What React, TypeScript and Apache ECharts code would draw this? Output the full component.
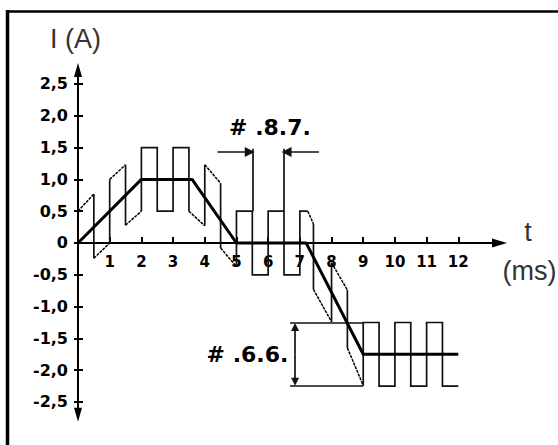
import React, { useEffect, useRef } from 'react';
import * as echarts from 'echarts';

// ---- data ----
const xTickValues = [1, 2, 3, 4, 5, 6, 7, 8, 9, 10, 11, 12];
const yTickValues = [-2.5, -2, -1.5, -1, -0.5, 0, 0.5, 1, 1.5, 2, 2.5];

// mean current (thick line), [t ms, I A]
const averageCurrent: [number, number][] = [
  [0, 0], [2, 1], [3.6, 1], [5, 0], [7.2, 0], [9, -1.75], [12, -1.75],
];

// chopped current with ripple (thin line), [t ms, I A]
const rippleCurrent: [number, number][] = [
  [0, 0.5], [0.5, 0.77], [0.5, -0.24], [1, 0], [1, 1.0], [1.5, 1.23], [1.5, 0.28],
  [2, 0.5], [2, 1.5], [2.5, 1.5], [2.5, 0.5], [3, 0.5], [3, 1.5], [3.5, 1.5], [3.5, 0.5],
  [4, 0.27], [4, 1.23], [4.5, 0.94], [4.5, -0.08], [5, -0.37], [5, 0.5], [5.5, 0.5],
  [5.5, -0.5], [6, -0.5], [6, 0.5], [6.5, 0.5], [6.5, -0.5], [7, -0.5], [7, 0.5],
  [7.25, 0.5], [7.43, 0.3], [7.43, -0.73], [8, -1.24], [8, -0.31], [8.5, -0.74],
  [8.5, -1.65], [9, -2.24], [9, -1.25], [9.5, -1.25], [9.5, -2.25], [10, -2.25],
  [10, -1.25], [10.5, -1.25], [10.5, -2.25], [11, -2.25], [11, -1.25], [11.5, -1.25],
  [11.5, -2.25], [12, -2.25],
];

// dimension annotations
const dimExtensionLines: [number, number][][] = [
  [[5.5, 0.5], [5.5, 1.48]],
  [[6.5, 0.5], [6.5, 1.48]],
  [[6.69, -1.25], [9, -1.25]],
  [[6.69, -2.25], [9, -2.25]],
];
const dimArrowsPeriod: [number, number][][] = [
  [[4.4, 1.43], [5.42, 1.43]],
  [[7.6, 1.43], [6.58, 1.43]],
];
const dimArrowsRipple: [number, number][][] = [
  [[6.85, -1.75], [6.85, -1.32]],
  [[6.85, -1.75], [6.85, -2.18]],
];
const periodLabel = '# .8.7.';
const rippleLabel = '# .6.6.';

function splitRipple(pts: [number, number][]) {
  const solid: [number, number][][] = [];
  const slanted: [number, number][][] = [];
  let run: [number, number][] | null = null;
  for (let i = 1; i < pts.length; i++) {
    const a = pts[i - 1];
    const b = pts[i];
    const straight = a[0] === b[0] || a[1] === b[1];
    if (straight) {
      if (!run) {
        run = [a];
        solid.push(run);
      }
      run.push(b);
    } else {
      run = null;
      slanted.push([a, b]);
    }
  }
  return { solid, slanted };
}

const labelFont = 'DejaVu Sans';

// layout
const GRID_TOP = 70;
const GRID_BOTTOM = 30.3;
const CHART_H = 445;
const Y_MIN = -2.7;
const Y_MAX = 2.72;

export default function App() {
  const ref = useRef<HTMLDivElement>(null);
  useEffect(() => {
    if (!ref.current) return;
    const chart = echarts.init(ref.current, undefined, { renderer: 'svg' });
    const { solid, slanted } = splitRipple(rippleCurrent);
    const yFmt = (v: number) => (v === 0 ? '0' : v.toFixed(1).replace('.', ','));
    const plotH = CHART_H - GRID_TOP - GRID_BOTTOM;
    const zeroFromBottom = (0 - Y_MIN) / (Y_MAX - Y_MIN) * plotH;
    chart.setOption({
      animation: false,
      backgroundColor: '#fff',
      grid: { left: 78, right: 58.5, top: GRID_TOP, bottom: GRID_BOTTOM },
      xAxis: {
        type: 'value',
        min: 0,
        max: 13.3,
        position: 'bottom',
        offset: -zeroFromBottom,
        axisLine: {
          onZero: false,
          lineStyle: { color: '#000', width: 2 },
          symbol: ['none', 'triangle'],
          symbolSize: [9, 15],
        },
        axisTick: { show: true, inside: true, length: 6, customValues: xTickValues, lineStyle: { color: '#000', width: 2 } },
        axisLabel: {
          customValues: xTickValues,
          color: '#000',
          fontFamily: labelFont,
          fontWeight: 'bold',
          fontSize: 15,
          margin: 12,
        },
        splitLine: { show: false },
      },
      yAxis: [
        {
          type: 'value',
          min: Y_MIN,
          max: Y_MAX,
          axisLine: {
            onZero: false,
            lineStyle: { color: '#000', width: 2 },
            symbol: ['triangle', 'triangle'],
            symbolSize: [8, 14],
          },
          axisTick: { show: true, inside: true, length: 5, customValues: yTickValues, lineStyle: { color: '#000', width: 2 } },
          axisLabel: {
            customValues: yTickValues,
            formatter: yFmt,
            color: '#000',
            fontFamily: labelFont,
            fontWeight: 'bold',
            fontSize: 16,
            margin: 10,
          },
          splitLine: { show: false },
        },
        {
          type: 'value',
          min: Y_MIN,
          max: Y_MAX,
          position: 'left',
          axisLine: { show: false, onZero: false },
          axisTick: { show: true, inside: false, length: 4, customValues: yTickValues, lineStyle: { color: '#000', width: 2 } },
          axisLabel: { show: false },
          splitLine: { show: false },
        },
      ],
      series: [
        {
          type: 'line',
          data: averageCurrent,
          symbol: 'none',
          lineStyle: { color: '#000', width: 3 },
          z: 4,
          silent: true,
        },
        {
          type: 'lines',
          coordinateSystem: 'cartesian2d',
          polyline: true,
          data: solid.map((c) => ({ coords: c })),
          lineStyle: { color: '#111', width: 1.7, opacity: 1 },
          z: 3,
          silent: true,
        },
        {
          type: 'lines',
          coordinateSystem: 'cartesian2d',
          data: slanted.map((c) => ({ coords: c })),
          lineStyle: { color: '#000', width: 1.5, type: [3, 1], opacity: 1 },
          z: 3,
          silent: true,
        },
        {
          type: 'lines',
          coordinateSystem: 'cartesian2d',
          data: dimExtensionLines.map((c) => ({ coords: c })),
          lineStyle: { color: '#111', width: 1.7, opacity: 1 },
          z: 3,
          silent: true,
        },
        {
          type: 'lines',
          coordinateSystem: 'cartesian2d',
          data: dimArrowsPeriod.map((c) => ({ coords: c })),
          symbol: ['none', 'triangle'],
          symbolSize: [7, 10],
          lineStyle: { color: '#111', width: 1.7, opacity: 1 },
          itemStyle: { color: '#111' },
          z: 3,
          silent: true,
        },
        {
          type: 'lines',
          coordinateSystem: 'cartesian2d',
          data: dimArrowsRipple.map((c) => ({ coords: c })),
          symbol: ['none', 'triangle'],
          symbolSize: [6, 8],
          lineStyle: { color: '#111', width: 1.7, opacity: 1 },
          itemStyle: { color: '#111' },
          z: 3,
          silent: true,
        },
      ],
      graphic: [
        { type: 'line', shape: { x1: 7.5, y1: 10, x2: 7.5, y2: 445 }, style: { stroke: '#000', lineWidth: 3.5 } },
        { type: 'line', shape: { x1: 6, y1: 11.5, x2: 558, y2: 11.5 }, style: { stroke: '#000', lineWidth: 2.5 } },
        {
          type: 'text', x: 50, y: 38.5,
          style: { text: 'I (A)', fontSize: 27, fontFamily: 'Liberation Sans', fill: '#333', align: 'left', textAlign: 'left', verticalAlign: 'middle', textVerticalAlign: 'middle' },
        },
        {
          type: 'text', x: 528, y: 232,
          style: { text: 't', fontSize: 27, fontFamily: 'Liberation Sans', fill: '#333', align: 'center', textAlign: 'center', verticalAlign: 'middle', textVerticalAlign: 'middle' },
        },
        {
          type: 'text', x: 529.5, y: 271,
          style: { text: '(ms)', fontSize: 27, fontFamily: 'Liberation Sans', fill: '#333', align: 'center', textAlign: 'center', verticalAlign: 'middle', textVerticalAlign: 'middle' },
        },
        {
          type: 'text', x: 270, y: 127.5,
          style: { text: periodLabel, fontSize: 22, fontWeight: 'bold', fontFamily: labelFont, fill: '#000', align: 'center', textAlign: 'center', verticalAlign: 'middle', textVerticalAlign: 'middle' },
        },
        {
          type: 'text', x: 247.5, y: 354,
          style: { text: rippleLabel, fontSize: 22, fontWeight: 'bold', fontFamily: labelFont, fill: '#000', align: 'center', textAlign: 'center', verticalAlign: 'middle', textVerticalAlign: 'middle' },
        },
      ],
    });
    return () => chart.dispose();
  }, []);
  return (
    <div
      ref={ref}
      style={{ position: 'absolute', left: 0, top: 0, width: 558, height: 445, background: '#fff' }}
    />
  );
}
